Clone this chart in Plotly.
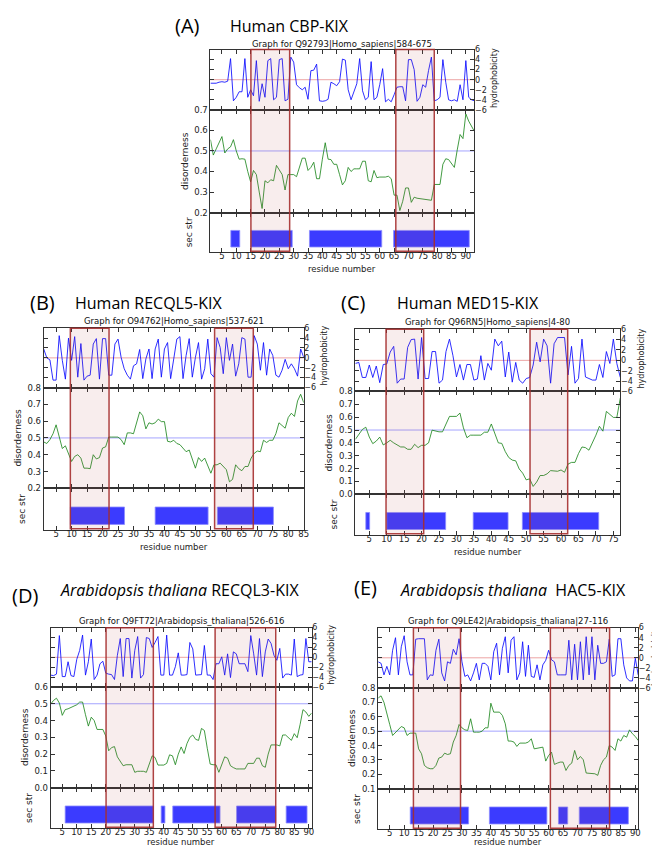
import plotly.graph_objects as go

W, H = 660, 848

# ---------------- data ----------------
A_hydro = [-0.7,-0.7,-0.7,-0.5,-0.4,-0.5,-0.3,4.2,-4.2,-3.5,
           -2.4,-2.4,4.2,-3.5,-2.0,-3.2,3.8,-4.3,-0.8,-3.5,
           3.8,4.2,-4.0,-3.5,4.0,4.2,-4.2,-3.9,4.5,3.5,
           -1.0,-1.6,-2.0,-1.5,-3.9,1.8,1.9,3.1,-4.2,-4.3,
           -4.2,-3.9,-0.5,-0.8,-1.2,-0.4,4.1,3.9,-2.0,-4.0,
           -2.2,-0.8,4.2,-2.2,-4.0,-3.5,3.6,-4.0,-3.5,-1.0,
           2.2,-4.4,-3.9,-4.4,-3.0,-1.5,-1.4,-1.4,-4.2,4.0,
           4.0,2.0,-4.3,-3.5,-1.0,-1.5,1.8,4.5,-4.2,-4.0,
           -3.5,4.0,-0.5,-4.0,-4.2,-4.0,-4.3,-1.0,-4.0,3.8,
           -3.5,-4.0,-4.2]
A_dis = [0.555,0.48,0.51,0.54,0.57,0.49,0.51,0.52,0.555,0.50,
         0.46,0.462,0.46,0.40,0.35,0.405,0.385,0.30,0.22,0.355,
         0.345,0.36,0.355,0.43,0.41,0.385,0.31,0.385,0.385,0.385,
         0.375,0.42,0.465,0.465,0.405,0.42,0.445,0.365,0.365,0.46,
         0.54,0.46,0.458,0.435,0.435,0.385,0.335,0.355,0.42,0.40,
         0.413,0.413,0.413,0.45,0.45,0.355,0.35,0.405,0.37,0.373,
         0.373,0.373,0.377,0.365,0.285,0.285,0.21,0.255,0.32,0.32,
         0.25,0.275,0.27,0.268,0.265,0.265,0.262,0.26,0.337,0.337,
         0.337,0.435,0.462,0.458,0.44,0.42,0.505,0.58,0.56,0.68,
         0.645,0.62,0.595]
A_sec_start = [8.1, 15.1, 35.5, 64.8]
A_sec_end = [11.2, 29.5, 60.7, 91.2]
A_hl_start = [15.1, 65.6]
A_hl_end = [28.6, 79.0]

B_hydro = [1.8,0.0,-0.4,-4.5,-4.5,4.5,-0.5,-4.3,4.0,-0.5,
           4.3,-3.9,2.9,-4.5,-3.7,-3.5,2.8,3.9,-4.3,3.9,
           3.9,-3.5,-3.5,2.8,3.8,0.1,-2.2,-3.5,-4.3,-1.6,
           -1.2,1.7,-4.2,-0.2,1.8,-4.2,1.8,3.8,-3.9,1.8,
           3.1,-4.2,-0.2,3.8,4.3,-4.2,0.5,3.9,-3.9,0.1,
           3.1,-4.3,-2.2,3.8,-3.2,-3.9,4.1,2.1,-3.2,4.1,
           -0.5,2.8,-3.7,-1.2,4.1,3.8,-3.9,-3.9,4.5,2.8,
           -2.5,3.1,-3.5,1.8,0.5,-3.5,-3.9,-2.5,-0.3,-2.2,
           -1.2,-2.2,-3.7,1.8,0.1]
B_dis = [0.476,0.467,0.49,0.525,0.578,0.505,0.437,0.453,0.408,0.36,
         0.39,0.40,0.38,0.32,0.32,0.317,0.40,0.375,0.383,0.44,
         0.447,0.505,0.505,0.505,0.505,0.49,0.46,0.53,0.53,0.525,
         0.583,0.655,0.632,0.554,0.59,0.583,0.59,0.612,0.597,0.597,
         0.48,0.476,0.486,0.467,0.46,0.437,0.418,0.428,0.38,0.32,
         0.383,0.36,0.38,0.33,0.29,0.34,0.34,0.35,0.33,0.311,
         0.239,0.253,0.34,0.317,0.305,0.33,0.33,0.38,0.408,0.422,
         0.418,0.486,0.473,0.486,0.486,0.525,0.59,0.574,0.558,0.622,
         0.647,0.628,0.72,0.76,0.71]
B_sec_start = [9.6, 37.0, 57.1]
B_sec_end = [27.1, 54.1, 75.2]
B_hl_start = [9.6, 56.2]
B_hl_end = [22.1, 68.7]

C_hydro = [-0.6,-0.4,-3.3,-3.3,-0.9,-3.3,-1.1,-4.3,-0.8,-0.7,
           1.6,2.7,-4.4,-3.6,-3.6,2.5,4.0,4.1,-3.6,4.4,
           -3.5,-3.5,1.7,1.7,-4.4,-3.8,1.7,4.1,0.9,-3.2,
           -0.8,-3.8,-0.8,-0.8,-3.8,-3.6,0.9,-3.8,-0.6,-1.9,
           4.1,2.8,3.7,-3.2,1.6,-4.2,-0.4,-3.8,-4.4,-3.5,
           -3.3,-0.9,3.5,-0.3,4.1,2.8,-4.4,3.2,4.4,4.4,
           4.4,-2.8,2.7,-4.4,-3.5,4.1,-3.2,-3.5,-3.8,-3.8,
           -0.8,-3.3,1.7,-0.6,4.1,-0.6,-3.3]
C_dis = [0.427,0.465,0.504,0.522,0.445,0.394,0.414,0.445,0.384,0.40,
         0.42,0.40,0.384,0.368,0.368,0.35,0.35,0.389,0.363,0.381,
         0.381,0.40,0.499,0.491,0.486,0.486,0.547,0.606,0.606,0.606,
         0.632,0.517,0.44,0.46,0.46,0.46,0.46,0.483,0.483,0.547,
         0.478,0.40,0.396,0.332,0.286,0.266,0.26,0.197,0.164,0.112,
         0.12,0.061,0.095,0.146,0.146,0.159,0.184,0.184,0.179,0.189,
         0.171,0.235,0.248,0.248,0.317,0.368,0.363,0.343,0.40,0.46,
         0.529,0.491,0.645,0.619,0.598,0.598,0.75]
C_sec_start = [4.0, 10.0, 34.8, 48.9]
C_sec_end = [5.1, 26.9, 44.8, 70.8]
C_hl_start = [9.8, 51.1]
C_hl_end = [20.6, 61.9]

D_hydro = [-3.6,-3.7,-3.4,4.4,-3.9,-3.9,-0.9,-3.7,-3.9,-0.4,
           1.4,4.5,-3.6,-0.9,3.7,-4.5,-3.6,-1.3,-0.8,-3.2,
           -3.4,-3.5,-4.5,0.4,3.8,-3.9,3.8,3.8,-4.2,1.4,
           4.2,-4.2,-3.5,4.0,3.8,2.0,3.0,4.2,-3.6,-3.6,
           4.5,-3.6,-3.6,-1.9,0.9,-3.6,-3.6,-3.5,3.0,1.7,
           -3.6,-3.6,-3.5,2.4,-3.6,-3.6,-4.5,-1.3,-1.3,0.1,
           -3.6,0.7,-4.1,1.1,0.7,-1.3,-1.3,-1.3,-2.9,4.4,
           0.7,-3.6,3.8,-3.9,1.1,3.7,2.8,0.4,-0.6,1.8,
           -4.2,-3.4,-3.4,-3.6,3.7,-3.9,-3.6,-3.5,3.8,-0.9,
           -0.9]
D_dis = [0.498,0.52,0.533,0.504,0.431,0.465,0.47,0.478,0.49,0.494,
         0.51,0.51,0.435,0.367,0.42,0.40,0.347,0.347,0.347,0.308,
         0.22,0.239,0.245,0.184,0.157,0.131,0.137,0.137,0.137,0.092,
         0.098,0.098,0.098,0.092,0.141,0.19,0.18,0.135,0.135,0.135,
         0.145,0.196,0.19,0.137,0.20,0.243,0.204,0.263,0.30,0.314,
         0.288,0.282,0.353,0.341,0.235,0.141,0.137,0.137,0.092,0.141,
         0.184,0.176,0.131,0.12,0.112,0.112,0.112,0.112,0.145,0.145,
         0.145,0.176,0.176,0.131,0.122,0.20,0.255,0.255,0.255,0.249,
         0.314,0.314,0.30,0.282,0.322,0.298,0.376,0.465,0.451,0.425,
         0.445]
D_sec_start = [6.0, 39.1, 43.1, 65.1, 82.2]
D_sec_end = [36.4, 40.4, 59.4, 78.6, 89.4]
D_hl_start = [20.1, 57.7]
D_hl_end = [36.4, 78.6]

E_hydro = [-0.8,-1.1,-3.4,-1.7,-3.4,1.5,4.0,-3.4,2.2,4.4,
           -0.8,-3.4,-3.4,3.7,3.8,3.8,3.8,-4.4,-3.4,-3.5,
           1.5,3.7,-3.0,-4.6,-0.8,-1.1,1.7,0.6,3.8,-0.8,
           -3.7,-3.4,-4.6,-3.0,-1.1,-4.4,-1.1,-1.1,-1.7,-4.4,
           1.2,2.9,-3.4,1.9,4.2,-3.0,3.5,4.2,-4.4,-3.0,
           3.2,-3.7,2.5,-3.7,-3.9,-1.4,-4.4,-1.4,-0.5,1.5,
           -0.4,-0.8,-3.4,-3.4,-3.4,-3.4,3.5,-4.4,2.7,-4.4,
           3.2,-4.4,4.2,-3.4,4.2,-4.4,2.5,-1.1,-1.1,-0.8,
           3.7,-3.7,-3.4,3.8,3.8,-1.4,-4.0,-4.6,-4.6,-0.1,
           -3.4]
E_dis = [0.73,0.745,0.70,0.632,0.546,0.47,0.493,0.516,0.532,0.523,
         0.47,0.486,0.486,0.486,0.377,0.343,0.262,0.246,0.239,0.239,
         0.262,0.313,0.32,0.347,0.338,0.343,0.424,0.47,0.546,0.523,
         0.509,0.505,0.586,0.493,0.493,0.493,0.50,0.523,0.523,0.694,
         0.632,0.632,0.632,0.609,0.551,0.431,0.431,0.424,0.394,0.417,
         0.417,0.417,0.424,0.447,0.377,0.38,0.384,0.389,0.292,0.331,
         0.354,0.269,0.278,0.285,0.285,0.227,0.262,0.278,0.366,0.301,
         0.324,0.301,0.209,0.209,0.209,0.204,0.193,0.262,0.301,0.32,
         0.40,0.389,0.366,0.447,0.431,0.47,0.458,0.509,0.482,0.463,
         0.435]
E_sec_start = [12.1, 39.5, 63.4, 70.6]
E_sec_end = [32.3, 59.4, 66.6, 87.6]
E_hl_start = [13.2, 60.6]
E_hl_end = [29.5, 81.1]

HYDRO_TICKS = [-6, -4, -2, 0, 2, 4, 6]

# ---------------- layout geometry (pixels) ----------------
panels = [
    dict(letter='(A)', name='Human CBP-KIX', sub='Graph for Q92793|Homo_sapiens|584-675',
         hydro=A_hydro, dis=A_dis, s0=A_sec_start, s1=A_sec_end, h0=A_hl_start, h1=A_hl_end,
         xmax=93, dr=(0.2, 0.7), box=(204, 470, 37, 98, 202, 242), hyd_dx=20, xt_dy=17,
         let_x=181, let_y=13, name_x=222, title_y=13, sub_y=31),
    dict(letter='(B)', name='Human RECQL5-KIX', sub='Graph for O94762|Homo_sapiens|537-621',
         hydro=B_hydro, dis=B_dis, s0=B_sec_start, s1=B_sec_end, h0=B_hl_start, h1=B_hl_end,
         xmax=85, dr=(0.2, 0.8), box=(36, 298, 319, 379, 481, 523), hyd_dx=21, xt_dy=17,
         let_x=35, let_y=293, name_x=65, title_y=293, sub_y=312),
    dict(letter='(C)', name='Human MED15-KIX', sub='Graph for Q96RN5|Homo_sapiens|4-80',
         hydro=C_hydro, dis=C_dis, s0=C_sec_start, s1=C_sec_end, h0=C_hl_start, h1=C_hl_end,
         xmax=77, dr=(0.0, 0.8), box=(350, 617, 320, 383, 487, 528), hyd_dx=21, xt_dy=17,
         let_x=348, let_y=293, name_x=390, title_y=293, sub_y=313),
    dict(letter='(D)', name='<i>Arabidopsis thaliana</i> RECQL3-KIX',
         sub='Graph for Q9FT72|Arabidopsis_thaliana|526-616',
         hydro=D_hydro, dis=D_dis, s0=D_sec_start, s1=D_sec_end, h0=D_hl_start, h1=D_hl_end,
         xmax=91, dr=(0.0, 0.6), box=(43, 306, 622, 682, 784, 825), hyd_dx=20, xt_dy=14,
         let_x=17, let_y=589, name_x=50, title_y=584, sub_y=615),
    dict(letter='(E)', name='<i>Arabidopsis thaliana</i>\u00a0 HAC5-KIX',
         sub='Graph for Q9LE42|Arabidopsis_thaliana|27-116',
         hydro=E_hydro, dis=E_dis, s0=E_sec_start, s1=E_sec_end, h0=E_hl_start, h1=E_hl_end,
         xmax=91, dr=(0.1, 0.8), box=(373, 635, 622, 683, 785, 826), hyd_dx=18, xt_dy=13,
         let_x=360, let_y=581, name_x=393, title_y=584, sub_y=615),
]


def fx(px):
    return px / W


def fy(py):
    return 1 - py / H


def sfx(k):
    return '' if k == 1 else str(k)


TICK_FONT = dict(family='DejaVu Sans', size=8.5, color='#222')
HTICK_FONT = dict(family='DejaVu Sans', size=8, color='#222')
TITLE_FONT = dict(family='DejaVu Sans', size=9, color='#222')
XTITLE_FONT = dict(family='DejaVu Sans', size=8.5, color='#222')
HTITLE_FONT = dict(family='DejaVu Sans', size=8, color='#222')
LINE_C = '#333'

fig = go.Figure()
layout = dict(width=W, height=H, margin=dict(l=0, r=0, t=0, b=0), autosize=False,
              paper_bgcolor='white', plot_bgcolor='white', showlegend=False)
shapes = []
annotations = []

for i, p in enumerate(panels):
    L, R, t, hb, db, b = p['box']
    k1, k2, k3 = 3 * i + 1, 3 * i + 2, 3 * i + 3
    n = len(p['hydro'])
    res = list(range(1, n + 1))
    xticks = list(range(5, p['xmax'] + 1, 5))
    for k in (k1, k2, k3):
        layout[f'xaxis{sfx(k)}'] = dict(
            domain=[fx(L), fx(R)], range=[1, p['xmax']], anchor=f'y{sfx(k)}',
            tickvals=xticks, ticks='inside', ticklen=4, tickcolor=LINE_C,
            mirror='ticks', showline=True, linecolor=LINE_C, linewidth=1,
            showgrid=False, zeroline=False, showticklabels=(k == k3),
            tickfont=TICK_FONT, ticklabelstandoff=-4,
        )

    layout[f'yaxis{sfx(k1)}'] = dict(
        domain=[fy(hb), fy(t)], range=[-6, 6], anchor=f'x{sfx(k1)}', side='right',
        tickvals=HYDRO_TICKS, ticks='inside', ticklen=4, tickcolor=LINE_C,
        mirror='ticks', showline=True, linecolor=LINE_C, linewidth=1,
        showgrid=False, zeroline=False, tickfont=HTICK_FONT, ticklabelstandoff=-2,
    )
    d0, d1 = p['dr']
    dticks = [round(d0 + 0.1 * j, 1) for j in range(int(round((d1 - d0) / 0.1)) + 1)]
    layout[f'yaxis{sfx(k2)}'] = dict(
        domain=[fy(db), fy(hb)], range=[d0 - 1e-6, d1 + 1e-6], anchor=f'x{sfx(k2)}',
        tickvals=dticks, tickformat='.1f', ticks='inside', ticklen=4, tickcolor=LINE_C,
        mirror='ticks', showline=True, linecolor=LINE_C, linewidth=1,
        showgrid=False, zeroline=False, tickfont=TICK_FONT,
        title=dict(text='disorderness', font=TITLE_FONT, standoff=4),
    )
    layout[f'yaxis{sfx(k3)}'] = dict(
        domain=[fy(b), fy(db)], range=[0, 1], anchor=f'x{sfx(k3)}',
        showticklabels=False, ticks='', mirror=True, showline=True,
        linecolor=LINE_C, linewidth=1, showgrid=False, zeroline=False,
        title=dict(text='sec str', font=TITLE_FONT, standoff=15),
    )

    xa1, ya1 = f'x{sfx(k1)}', f'y{sfx(k1)}'
    xa2, ya2 = f'x{sfx(k2)}', f'y{sfx(k2)}'
    xa3, ya3 = f'x{sfx(k3)}', f'y{sfx(k3)}'

    # reference lines
    shapes.append(dict(type='line', xref=f'{xa1} domain', yref=ya1, x0=0, x1=1, y0=0, y1=0,
                       line=dict(color='rgba(220,90,90,0.55)', width=1), layer='below'))
    shapes.append(dict(type='line', xref=f'{xa2} domain', yref=ya2, x0=0, x1=1, y0=0.5, y1=0.5,
                       line=dict(color='rgba(90,90,255,0.55)', width=1), layer='below'))

    fig.add_trace(go.Scatter(x=res, y=p['hydro'], xaxis=xa1, yaxis=ya1, mode='lines',
                             line=dict(color='rgba(10,10,255,0.85)', width=1), hoverinfo='skip'))
    fig.add_trace(go.Scatter(x=list(range(1, len(p['dis']) + 1)), y=p['dis'], xaxis=xa2,
                             yaxis=ya2, mode='lines',
                             line=dict(color='rgba(20,130,20,0.8)', width=1), hoverinfo='skip'))

    # secondary structure boxes
    for s0, s1 in zip(p['s0'], p['s1']):
        shapes.append(dict(type='rect', xref=xa3, yref=ya3, x0=s0, x1=s1, y0=0.13, y1=0.55,
                           fillcolor='#3b3bff', line=dict(color='rgba(140,140,255,0.8)', width=1),
                           layer='above'))
    # highlighted regions
    for h0, h1 in zip(p['h0'], p['h1']):
        shapes.append(dict(type='rect', xref=xa1, yref='paper', x0=h0, x1=h1,
                           y0=fy(b - 1), y1=fy(t),
                           fillcolor='rgba(190,80,80,0.10)',
                           line=dict(color='rgba(165,45,45,0.9)', width=1.5), layer='above'))

    # axis titles placed as annotations
    annotations.append(dict(text='residue number', xref='paper', yref='paper', x=fx((L + R) / 2),
                            y=fy(b + p['xt_dy']), xanchor='center', yanchor='middle',
                            showarrow=False, font=XTITLE_FONT))
    annotations.append(dict(text='hydrophobicity', xref='paper', yref='paper',
                            x=fx(R + p['hyd_dx']), y=fy((t + hb) / 2 - 2), xanchor='center',
                            yanchor='middle', showarrow=False, textangle=-90, font=HTITLE_FONT))

    # titles
    annotations.append(dict(text=p['letter'], xref='paper', yref='paper', x=fx(p['let_x']),
                            y=fy(p['let_y']), xanchor='center', yanchor='middle', showarrow=False,
                            font=dict(family='Open Sans', size=20, color='black')))
    annotations.append(dict(text=p['name'], xref='paper', yref='paper', x=fx(p['name_x']),
                            y=fy(p['title_y']), xanchor='left', yanchor='middle', showarrow=False,
                            font=dict(family='Open Sans', size=16, color='black')))
    annotations.append(dict(text=p['sub'], xref='paper', yref='paper', x=fx((L + R) / 2),
                            y=fy(p['sub_y']), xanchor='center', yanchor='middle', showarrow=False,
                            font=dict(family='DejaVu Sans', size=8.5, color='#111')))

layout['shapes'] = shapes
layout['annotations'] = annotations
fig.update_layout(**layout)
fig.write_html('out.html')
